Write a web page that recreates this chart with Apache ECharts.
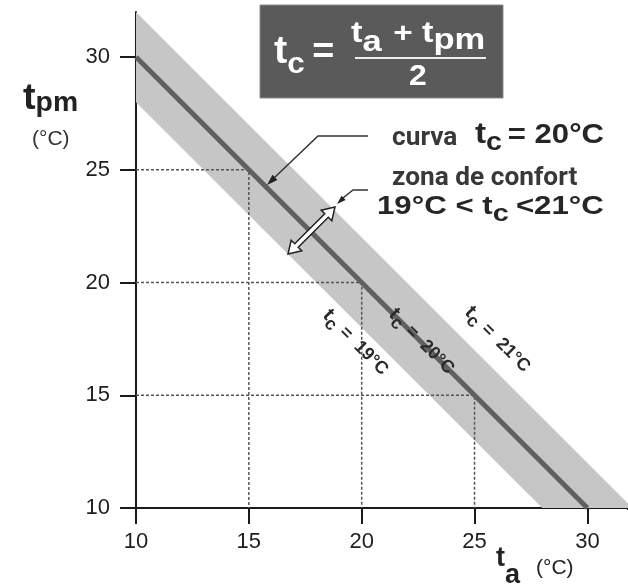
<!DOCTYPE html>
<html>
<head>
<meta charset="utf-8">
<script src="https://cdn.jsdelivr.net/npm/echarts@6/dist/echarts.min.js"></script>
<style>html,body{margin:0;padding:0;background:#fff}#c{width:628px;height:587px}</style>
</head>
<body>
<div id="c"></div>
<script>
// ---- data ----
const taTicks = [10, 15, 20, 25, 30];
const tpmTicks = [10, 15, 20, 25, 30];
const centerLine = [[10, 30], [30, 10]];          // tc = 20 °C
const bandUpper = [[10, 32], [32, 10]];           // tc = 21 °C
const bandLower = [[10, 28], [28, 10]];           // tc = 19 °C
const guide15 = [[10, 25], [15, 25], [15, 10]];
const guide20 = [[10, 20], [20, 20], [20, 10]];
const guide25 = [[10, 15], [25, 15], [25, 10]];

const chart = echarts.init(document.getElementById('c'), null, {renderer: 'canvas'});

const mctx = document.createElement('canvas').getContext('2d');
function seqChildren(pieces, fill, family) {
  const out = [];
  let cx = 0;
  pieces.forEach(p => {
    const fs = p.fs, fw = p.fw || 'bold', fam = p.fam || family;
    mctx.font = fw + ' ' + fs + 'px ' + fam;
    const w = mctx.measureText(p.t).width;
    out.push({
      type: 'text', z: 100,
      style: {
        x: cx + (p.dx || 0), y: (p.dy || 0) - 0.31 * fs,
        text: p.t, fill: p.fill || fill,
        font: fw + ' ' + fs + 'px ' + fam,
        align: 'left', verticalAlign: 'middle'
      }
    });
    cx += w + (p.dx || 0) + (p.gap || 0);
  });
  return {children: out, width: cx};
}
function seq(x, baseline, pieces, fill, family, sx) {
  const r = seqChildren(pieces, fill, family);
  return {type: 'group', x: x, y: baseline, scaleX: sx || 1, z: 100, children: r.children};
}
const HEL = '"Liberation Sans", Arial, sans-serif';
const ROB = 'Roboto, "Liberation Sans", sans-serif';

function dblArrow(x1, y1, x2, y2, shaftW, headW, headL) {
  const dx = x2 - x1, dy = y2 - y1, L = Math.hypot(dx, dy);
  const ux = dx / L, uy = dy / L, nx = -uy, ny = ux;
  const P = (t, s) => [x1 + ux * t + nx * s, y1 + uy * t + ny * s];
  return [P(0, 0), P(headL, headW / 2), P(headL, shaftW / 2), P(L - headL, shaftW / 2),
          P(L - headL, headW / 2), P(L, 0), P(L - headL, -headW / 2), P(L - headL, -shaftW / 2),
          P(headL, -shaftW / 2), P(headL, -headW / 2)];
}
function arrowHead(tipX, tipY, fromX, fromY, len, w) {
  const dx = tipX - fromX, dy = tipY - fromY, L = Math.hypot(dx, dy);
  const ux = dx / L, uy = dy / L, nx = -uy, ny = ux;
  return [[tipX, tipY], [tipX - ux * len + nx * w / 2, tipY - uy * len + ny * w / 2],
          [tipX - ux * len - nx * w / 2, tipY - uy * len - ny * w / 2]];
}

const graphics = [];
// formula box
graphics.push({type: 'rect', z: 90, shape: {x: 260, y: 5, width: 243, height: 93},
  style: {fill: '#5a5a5a', stroke: '#8a8a8a', lineWidth: 1}});
graphics.push(seq(274, 64, [{t: 't', fs: 38}, {t: 'c', fs: 30, dy: 10, gap: 7}, {t: '=', fs: 36}], '#fff', HEL, 1.05));
graphics.push(seq(351, 43, [{t: 't', fs: 29}, {t: 'a', fs: 29, dy: 9, gap: 2}, {t: ' + ', fs: 28, gap: 0},
  {t: 't', fs: 29}, {t: 'pm', fs: 29, dy: 7}], '#fff', HEL, 1.19));
graphics.push({type: 'line', z: 100, shape: {x1: 355, y1: 58, x2: 486, y2: 58}, style: {stroke: '#eee', lineWidth: 2}});
graphics.push(seq(409, 86, [{t: '2', fs: 29}], '#fff', HEL, 1.1));

// axis names
graphics.push(seq(23, 110, [{t: 't', fs: 36}, {t: 'pm', fs: 27, dy: 2}], '#222', HEL, 1.05));
graphics.push(seq(32, 146, [{t: '(°C)', fs: 21, fw: 'normal'}], '#333', HEL));
graphics.push(seq(496, 567, [{t: 't', fs: 27}, {t: 'a', fs: 27, dy: 17, gap: 16}, {t: '(°C)', fs: 21, fw: 'normal', dy: 8}], '#222', HEL));

// annotation texts
graphics.push(seq(392, 146, [{t: 'curva', fs: 25}], '#383838', ROB, 1.05));
graphics.push(seq(475, 144, [{t: 't', fs: 29}, {t: 'c', fs: 25, dy: 7, gap: 5}, {t: '= 20°C', fs: 27}], '#262626', HEL, 1.15));
graphics.push(seq(392, 186, [{t: 'zona de confort', fs: 25}], '#383838', ROB, 1.05));
graphics.push(seq(377, 215, [{t: '19°C < t', fs: 26}, {t: 'c', fs: 24, dy: 7, gap: 6}, {t: '<21°C', fs: 26}], '#262626', HEL, 1.2));

// leader lines
graphics.push({type: 'polyline', z: 95, shape: {points: [[368, 136], [318, 136], [274, 178]]}, style: {stroke: '#333', lineWidth: 1.5, fill: null}});
graphics.push({type: 'polygon', z: 95, shape: {points: arrowHead(267, 185, 318, 136, 11, 7)}, style: {fill: '#222'}});
graphics.push({type: 'polyline', z: 95, shape: {points: [[368, 190], [353, 190], [343, 198]]}, style: {stroke: '#333', lineWidth: 1.5, fill: null}});
graphics.push({type: 'polygon', z: 95, shape: {points: arrowHead(337, 204, 350, 192, 9, 6)}, style: {fill: '#222'}});
graphics.push({type: 'polygon', z: 96, shape: {points: dblArrow(288, 254, 335, 207, 5, 15, 12)},
  style: {fill: '#fff', stroke: '#222', lineWidth: 1.5}});
// mask the extra end-of-axis tick at the right edge
graphics.push({type: 'rect', z: 100, shape: {x: 621, y: 510, width: 8, height: 20}, style: {fill: '#fff'}});

// rotated line labels
function rotLabel(cx, cy, pieces) {
  const r = seqChildren(pieces, '#2a2a2a', HEL);
  r.children.forEach(c => { c.style.x -= r.width / 2; c.style.y += 5; });
  return {type: 'group', x: cx, y: cy, rotation: -Math.PI / 4, z: 100, children: r.children};
}
const rl = t => [{t: 't', fs: 20}, {t: 'c', fs: 18, dy: 5, gap: 7}, {t: '=  ' + t, fs: 18}];
graphics.push(rotLabel(355, 343, rl('19°C')));
graphics.push(rotLabel(421, 342, rl('20°C')));
graphics.push(rotLabel(497, 340, rl('21°C')));

const guideStyle = {color: '#555', width: 1.5, type: [3, 2]};
function guide(data) {
  return {type: 'line', data, symbol: 'none', z: 3, lineStyle: guideStyle, silent: true};
}

chart.setOption({
  animation: false,
  backgroundColor: '#fff',
  grid: {left: 136, right: 0, top: 12, bottom: 79, containLabel: false},
  xAxis: {
    type: 'value', position: 'bottom', min: 10, max: 31.8, interval: 5,
    axisLine: {onZero: false, lineStyle: {color: '#1a1a1a', width: 2}},
    axisTick: {show: true, inside: false, length: 16, lineStyle: {color: '#1a1a1a', width: 2}},
    axisLabel: {customValues: taTicks, fontSize: 22, color: '#1e1e1e', fontFamily: HEL, margin: 23},
    splitLine: {show: false}
  },
  yAxis: {
    type: 'value', position: 'left', min: 10, max: 32, interval: 5,
    axisLine: {show: true, onZero: false, lineStyle: {color: '#1a1a1a', width: 2}},
    axisTick: {show: true, inside: false, length: 16, lineStyle: {color: '#1a1a1a', width: 2}, customValues: tpmTicks},
    axisLabel: {customValues: tpmTicks, fontSize: 22, color: '#1e1e1e', fontFamily: HEL, margin: 26},
    splitLine: {show: false}
  },
  series: [
    {
      type: 'custom', z: 1, clip: true, silent: true,
      data: [0],
      renderItem: function (params, api) {
        const pts = [bandUpper[0], bandUpper[1], bandLower[1], bandLower[0]].map(p => api.coord(p));
        return {type: 'polygon', shape: {points: pts}, style: {fill: '#c6c6c6'}};
      }
    },
    guide(guide15), guide(guide20), guide(guide25),
    {type: 'line', data: centerLine, symbol: 'none', z: 5, lineStyle: {color: '#606060', width: 5}, silent: true}
  ],
  graphic: graphics
});
</script>
</body>
</html>
